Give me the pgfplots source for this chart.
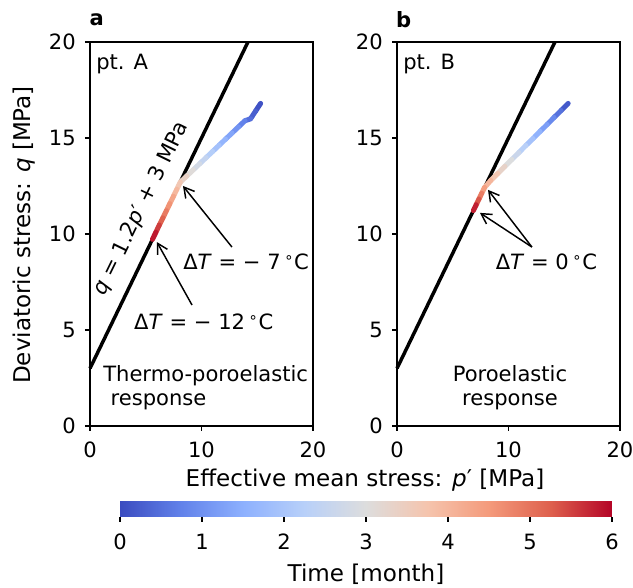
\documentclass[border=0pt]{standalone}
\usepackage{fontspec}
\setmainfont{DejaVu Sans}
\usepackage{pgfplots}
\pgfplotsset{compat=1.18}
\usetikzlibrary{arrows.meta}
\tikzset{arr/.style={-{Straight Barb[length=7.5pt,width=8.5pt]}, line width=1.1pt}}
\newcommand{\labfont}{\fontsize{17.3}{19}\selectfont}
\pgfplotsset{
  colormap={coolwarm}{rgb255=(59,76,192) rgb255=(98,130,234) rgb255=(141,176,254) rgb255=(184,208,249) rgb255=(221,221,221) rgb255=(245,196,173) rgb255=(244,154,123) rgb255=(222,96,77) rgb255=(180,4,38)},
  myax/.style={scale only axis, width=167.25pt, height=288pt,
    xmin=0, xmax=20, ymin=0, ymax=20,
    xtick={0,10,20}, ytick={0,5,10,15,20},
    tick pos=left,
    tick align=outside, major tick length=3.75pt,
    axis line style={line width=0.9pt},
    every tick/.style={black, line width=0.9pt},
    xticklabel style={yshift=-2.5pt}, yticklabel style={xshift=-1.5pt},
    clip=false, /pgf/number format/assume math mode=true,
    point meta min=0, point meta max=6, colormap name=coolwarm,
    anchor=south west},
}
\begin{document}
\fontsize{15.8}{17.5}\selectfont
\begin{tikzpicture}
\useasboundingbox (0,0) rectangle (474.75pt,441pt);
% panel a
\begin{axis}[myax, at={(67.5pt,121.5pt)},
  colorbar horizontal,
  colorbar style={at={(0.1345,-0.1979)}, anchor=north west,
    width=369pt, height=11.25pt, xtick={0,1,2,3,4,5,6},
    xtick pos=left, ytick=\empty,
    xticklabel style={yshift=-3.5pt},
    xlabel={Time [month]}, xlabel style={font=\labfont},
    tick align=outside, major tick length=3.75pt,
    /pgf/number format/assume math mode=true,
    axis line style={draw=none}, every tick/.style={black, line width=0.9pt}}]
\addplot[black, line width=2.6pt] coordinates {(0,3) (14.1667,20)};
\addplot[mesh, point meta=explicit, line width=3.8pt, line cap=round, line join=round] coordinates {
(15.3,16.8) [0] (14.85,16.4) [0.18] (14.4,16.0) [0.35] (13.9,15.9) [0.6]
(13.32,15.58) [0.89] (12.74,15.26) [1.18] (12.16,14.94) [1.47] (11.58,14.62) [1.76]
(11.0,14.3) [2.05] (10.42,13.98) [2.34] (9.84,13.66) [2.63] (9.26,13.34) [2.92]
(8.68,13.02) [3.21] (8.1,12.7) [3.5]
(7.79,12.33) [3.81] (7.48,11.96) [4.13] (7.16,11.58) [4.44] (6.85,11.21) [4.75]
(6.54,10.84) [5.06] (6.22,10.47) [5.38] (5.91,10.09) [5.69] (5.6,9.72) [6]
};
\node[rotate=64] at (axis cs:4.6,11.3) {\textit{q} = 1.2\textit{p}′ + 3 MPa};
\node[anchor=west, inner sep=0pt] at (axis cs:0.54,18.85) {pt. A};
\node[anchor=west, align=left, inner sep=0pt] at (axis cs:1.17,2.0) {Thermo-poroelastic\\\hspace{0.35em}response};
\node at (axis cs:14.0,8.54) {Δ\textit{T} = − 7\,\textsuperscript{∘}C};
\node at (axis cs:10.2,5.42) {Δ\textit{T} = − 12\,\textsuperscript{∘}C};
\draw[arr] (axis cs:12.73,9.32) -- (axis cs:8.34,12.5);
\draw[arr] (axis cs:9.15,6.3) -- (axis cs:6.0,9.58);
\node[font=\bfseries] at (axis cs:0.6,21.15) {a};
\end{axis}
% panel b
\begin{axis}[myax, at={(297.75pt,121.5pt)}]
\addplot[black, line width=2.6pt] coordinates {(0,3) (14.1667,20)};
\addplot[mesh, point meta=explicit, line width=3.8pt, line cap=round, line join=round] coordinates {
(15.35,16.8) [0] (14.72,16.43) [0.35] (14.09,16.07) [0.70] (13.46,15.70) [1.05]
(12.83,15.34) [1.40] (12.20,14.97) [1.75] (11.56,14.61) [2.10] (10.93,14.24) [2.45]
(10.30,13.88) [2.80] (9.67,13.52) [3.15] (9.04,13.15) [3.50] (8.41,12.79) [3.85]
(7.85,12.42) [4.2]
(7.6,12.12) [4.65] (7.35,11.82) [5.1] (7.1,11.52) [5.55] (6.85,11.22) [6]
};
\node[anchor=west, inner sep=0pt] at (axis cs:0.54,18.85) {pt. B};
\node[align=center] at (axis cs:10.13,2.0) {Poroelastic\\response};
\node at (axis cs:13.4,8.54) {Δ\textit{T} = 0\,\textsuperscript{∘}C};
\draw[arr] (axis cs:12.1,9.32) -- (axis cs:7.44,11.1);
\draw[arr] (axis cs:12.1,9.32) -- (axis cs:8.16,12.3);
\node[font=\bfseries] at (axis cs:0.6,21.15) {b};
\end{axis}
\node[rotate=90, font=\labfont] at (18pt,264.75pt) {Deviatoric stress: \textit{q} [MPa]};
\node[font=\labfont] at (273.75pt,81pt) {Effective mean stress: \textit{p}′ [MPa]};
\end{tikzpicture}
\end{document}
